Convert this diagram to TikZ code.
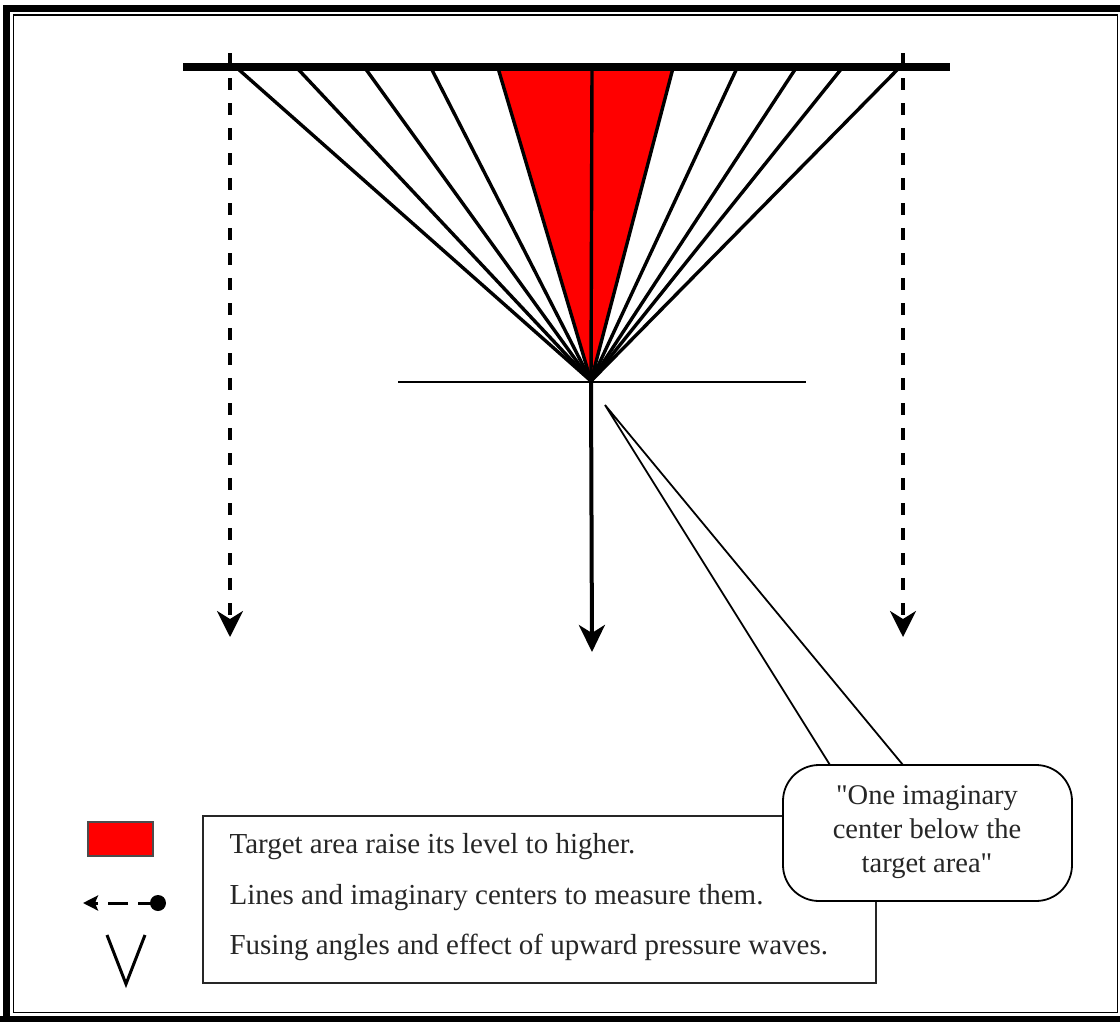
\documentclass[tikz,border=0pt]{standalone}
\usepackage{fontspec}
\setmainfont{Liberation Serif}
\usetikzlibrary{arrows.meta}
\begin{document}
\begin{tikzpicture}[x=1pt,y=-1pt,
  fanline/.style={line width=3.4pt},
  bigtip/.style={-{Stealth[length=26pt,width=26pt,inset=8pt]}},
  dashedarrow/.style={line width=3.2pt,dash pattern=on 12pt off 13pt,bigtip},
  legendtext/.style={anchor=base west,font=\fontsize{29}{33}\selectfont,text=black!85},
  callouttext/.style={align=center,font=\fontsize{28.5}{34}\selectfont,text=black!85}]
\useasboundingbox (0,0) rectangle (1120,1021);
\clip (0,0) rectangle (1120,1021);
% frame
\draw[line width=7pt] (6.5,1040) -- (6.5,8) -- (1140,8);
\draw[line width=7pt] (0,1019.5) -- (1140,1019.5);
\draw[line width=1.5pt] (13.5,15) rectangle (1117.5,1012.5);
% key points
\coordinate (C) at (591,381);
\foreach \n/\x in {a/237,b/297,c/365,d/431,e/498,f/592,g/673,h/737,i/796,j/842,k/899}
  \coordinate (t\n) at (\x,68);
% red target area
\fill[red] (C) -- (te) -- (tg) -- cycle;
\foreach \n in {a,b,c,d,e,f,g,h,i,j,k}
  \draw[fanline] (C) -- (t\n);
% top bar
\coordinate (barL) at (183,67);
\coordinate (barR) at (950,67);
\draw[line width=8pt] (barL) -- (barR);
% horizontal thin line
\coordinate (hL) at (398,382);
\coordinate (hR) at (806,382);
\draw[line width=1.8pt] (hL) -- (hR);
% arrows
\coordinate (dLs) at (230,53);
\coordinate (dLe) at (230,637);
\coordinate (dRs) at (903,53);
\coordinate (dRe) at (903,637);
\coordinate (cE) at (592,652);
\draw[dashedarrow] (dLs) -- (dLe);
\draw[dashedarrow] (dRs) -- (dRe);
\draw[line width=4pt,-{Stealth[length=27pt,width=26pt,inset=8pt]}] (C) -- (cE);
% legend box
\draw[line width=1.5pt,draw=black!85] (203,816) rectangle (876,983);
\node[legendtext] (l1) at (226,853) {Target area raise its level to higher.};
\node[legendtext] (l2) at (226,904) {Lines and imaginary centers to measure them.};
\node[legendtext] (l3) at (226,954) {Fusing angles and effect of upward pressure waves.};
% legend icons
\draw[fill=red,draw=black!70,line width=1.5pt] (88,822) rectangle (153,856);
\node[circle,fill=black,inner sep=0pt,minimum size=16pt] (dot) at (158,903) {};
\coordinate (ltip) at (83,903);
\draw[line width=3pt,dash pattern=on 20pt off 10pt,-{Stealth[length=15pt,width=15pt,inset=3pt]}] (dot.center) -- (ltip);
\coordinate (v1) at (107,935);
\coordinate (v2) at (126,984);
\coordinate (v3) at (145,935);
\draw[line width=3pt] (v1) -- (v2) -- (v3);
% callout
\coordinate (ptr) at (605,405);
\coordinate (pb1) at (830,765);
\coordinate (pb2) at (903,765);
\draw[fill=white,line width=1.8pt,rounded corners=36pt] (783,765) rectangle (1072,901);
\fill[white] ([yshift=2pt]pb1) -- (ptr) -- ([yshift=2pt]pb2) -- cycle;
\draw[line width=1.8pt,line join=miter] (pb1) -- (ptr) -- (pb2);
\node[callouttext] (callout) at (927,832) {\textquotedbl One imaginary\\center below the\\target area\textquotedbl};
\end{tikzpicture}
\end{document}
